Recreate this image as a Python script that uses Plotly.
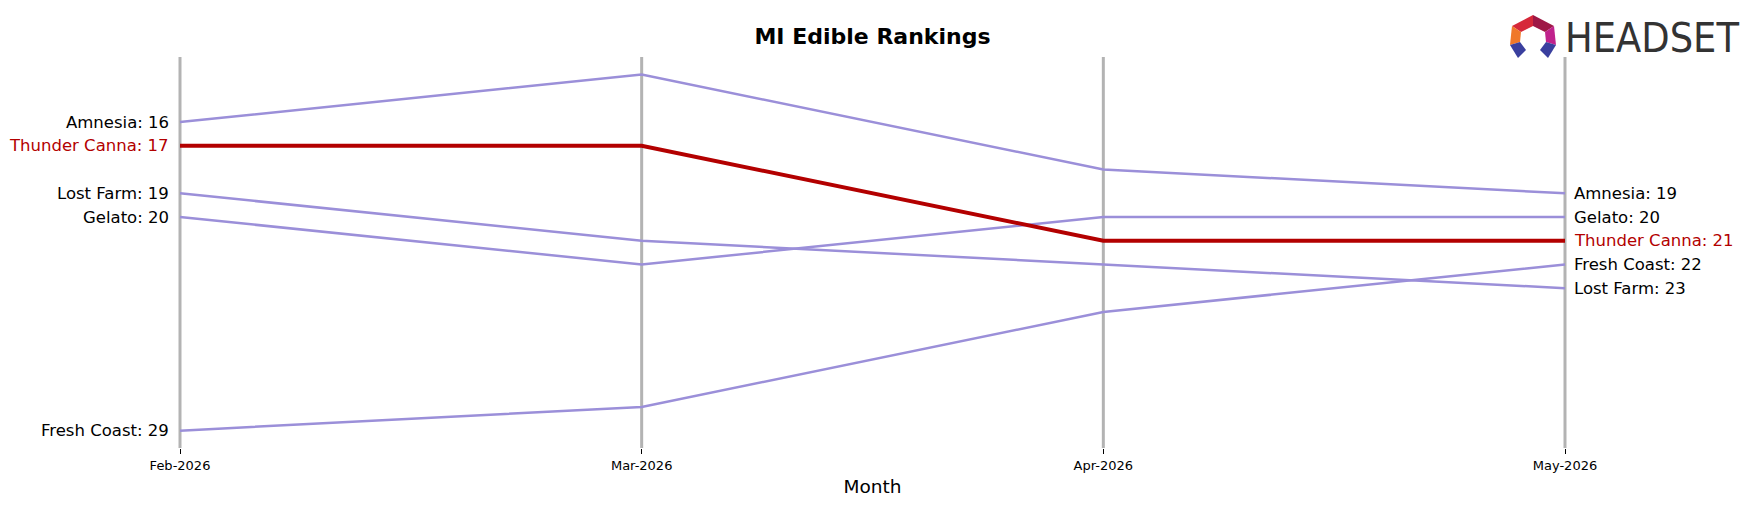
import plotly.graph_objects as go

months = ["Feb-2026", "Mar-2026", "Apr-2026", "May-2026"]
brands = ["Amnesia", "Thunder Canna", "Lost Farm", "Gelato", "Fresh Coast"]
amnesia = [16, 14, 18, 19]
thunder_canna = [17, 17, 21, 21]
lost_farm = [19, 21, 22, 23]
gelato = [20, 22, 20, 20]
fresh_coast = [29, 28, 24, 22]
series = [amnesia, thunder_canna, lost_farm, gelato, fresh_coast]
highlight = "Thunder Canna"

W, H = 1747, 507
PAD = 3
L, R, T, B = 180 - PAD, 1565 + PAD, 57, 448
UNIT = (1565 - 180) / 3.0
XPAD = PAD / UNIT

PURPLE = "#9b8fd9"
RED = "#b30000"

fig = go.Figure()
xs = list(range(len(months)))

# vertical month lines
for x in xs:
    fig.add_shape(type="line", x0=x, x1=x, y0=0, y1=1, xref="x", yref="paper",
                  line=dict(color="#b3b3b3", width=3), layer="below")

order = sorted(range(len(brands)), key=lambda i: brands[i] == highlight)
for i in order:
    name = brands[i]
    hl = name == highlight
    fig.add_trace(go.Scatter(
        x=xs, y=series[i], mode="lines", name=name,
        line=dict(color=RED if hl else PURPLE, width=4 if hl else 2.5),
        showlegend=False, hoverinfo="skip"))

ann = []
for name, vals in zip(brands, series):
    hl = name == highlight
    col = RED if hl else "black"
    ann.append(dict(x=xs[0], y=vals[0], xref="x", yref="y", text=f"{name}: {vals[0]}",
                    showarrow=False, xanchor="right", yanchor="middle", xshift=-9,
                    font=dict(family="DejaVu Sans", size=16.5, color=col)))
    ann.append(dict(x=xs[-1], y=vals[-1], xref="x", yref="y", text=f"{name}: {vals[-1]}",
                    showarrow=False, xanchor="left", yanchor="middle", xshift=7,
                    font=dict(family="DejaVu Sans", size=16.5, color=col)))

def px(x):
    return (x - L) / (R - L)

def py(y):
    return (B - y) / (B - T)

# logo text
ann.append(dict(x=px(1563), y=py(38), xref="paper", yref="paper", text="HEADSET",
                showarrow=False, xanchor="left", yanchor="middle",
                font=dict(family="DejaVu Sans Condensed", size=41, color="#333333")))

fig.update_layout(annotations=ann)

# logo icon polygons
polys = [
    ("#d62839", [(1512, 26), (1533, 15), (1533, 26), (1521, 32)]),
    ("#9e1846", [(1533, 15), (1554, 26), (1545, 32), (1533, 26)]),
    ("#f0782a", [(1512, 26), (1521, 32), (1520, 42), (1510, 45)]),
    ("#c0228c", [(1554, 26), (1556, 45), (1546, 42), (1545, 32)]),
    ("#3a3f9e", [(1510, 45), (1520, 42), (1526, 50), (1518, 58)]),
    ("#3a3f9e", [(1556, 45), (1546, 42), (1540, 50), (1548, 58)]),
]
for col, pts in polys:
    path = "M " + " L ".join(f"{px(a):.5f},{py(b):.5f}" for a, b in pts) + " Z"
    fig.add_shape(type="path", path=path, xref="paper", yref="paper",
                  fillcolor=col, line=dict(width=0), layer="above")

fig.update_layout(
    width=W, height=H,
    margin=dict(l=L, r=W - R, t=T, b=H - B),
    plot_bgcolor="white", paper_bgcolor="white",
    title=dict(text="<b>MI Edible Rankings</b>", x=0.5, xref="paper", xanchor="center",
               y=1 - 36 / H, yanchor="middle",
               font=dict(family="DejaVu Sans", size=22, color="black")),
    xaxis=dict(range=[-XPAD, 3 + XPAD], tickvals=xs, ticktext=months, showgrid=False,
               zeroline=False, showline=False,
               ticks="outside", ticklen=5, tickcolor="black", tickwidth=1,
               tickfont=dict(family="DejaVu Sans", size=13, color="black"),
               title=dict(text="Month", font=dict(family="DejaVu Sans", size=18.5, color="black"),
                          standoff=8)),
    yaxis=dict(range=[29.73, 13.26], visible=False, showgrid=False, zeroline=False),
)

fig.write_html("out.html")
